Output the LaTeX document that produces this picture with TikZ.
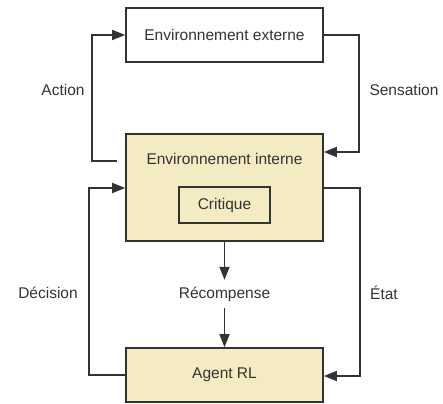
\documentclass[tikz,border=0pt]{standalone}
\usepackage{fontspec}
\setmainfont{Liberation Sans}
\usetikzlibrary{arrows.meta}
\definecolor{ink}{HTML}{333333}
\definecolor{pale}{HTML}{F5EBC3}
\begin{document}
\begin{tikzpicture}[x=1pt,y=-1pt,
  every node/.style={font=\fontsize{15.5}{18}\selectfont, text=ink},
  box/.style={draw=ink, line width=1.6pt, rectangle, inner sep=0pt},
  link/.style={draw=ink, line width=1.6pt},
  arr/.style={link, -{Triangle[length=13pt,width=10pt]}}]
  \useasboundingbox (0,0) rectangle (443,403);

  % boxes
  \node[box, fill=white, minimum width=197pt, minimum height=54pt] (ext) at (224.5,35) {Environnement externe};
  \node[box, fill=pale, minimum width=197pt, minimum height=107pt] (int) at (224.5,187.5) {};
  \node (intlabel) at (224.5,159) {Environnement interne};
  \node[box, minimum width=91pt, minimum height=36pt] (crit) at (224.5,205) {Critique};
  \node[box, fill=pale, minimum width=197pt, minimum height=54pt] (agent) at (224.5,375) {Agent RL};

  % reward label between the two arrows
  \node[inner sep=0pt, minimum height=28pt] (rec) at (224.5,294) {Récompense};

  % side labels
  \node (action) at (63,90) {Action};
  \node (sensation) at (404,90) {Sensation};
  \node (decision) at (48,293) {Décision};
  \node (etat) at (384,293) {État};

  % loop connectors
  \coordinate (astart) at (117,161);
  \draw[arr] (astart) -- (92,161) -- (92,35) -- (ext.west);
  \draw[arr] (ext.east) -- (359,35) -- (359,152) -- (int.east |- 0,152);
  \draw[arr] (agent.west) -- (89,375) -- (89,188) -- (int.west |- 0,188);
  \draw[arr] (int.east |- 0,188) -- (360,188) -- (360,376) -- (agent.east |- 0,376);

  % reward path
  \draw[arr] (int.south) -- (rec.north);
  \draw[arr] (rec.south) -- (agent.north);
\end{tikzpicture}
\end{document}
